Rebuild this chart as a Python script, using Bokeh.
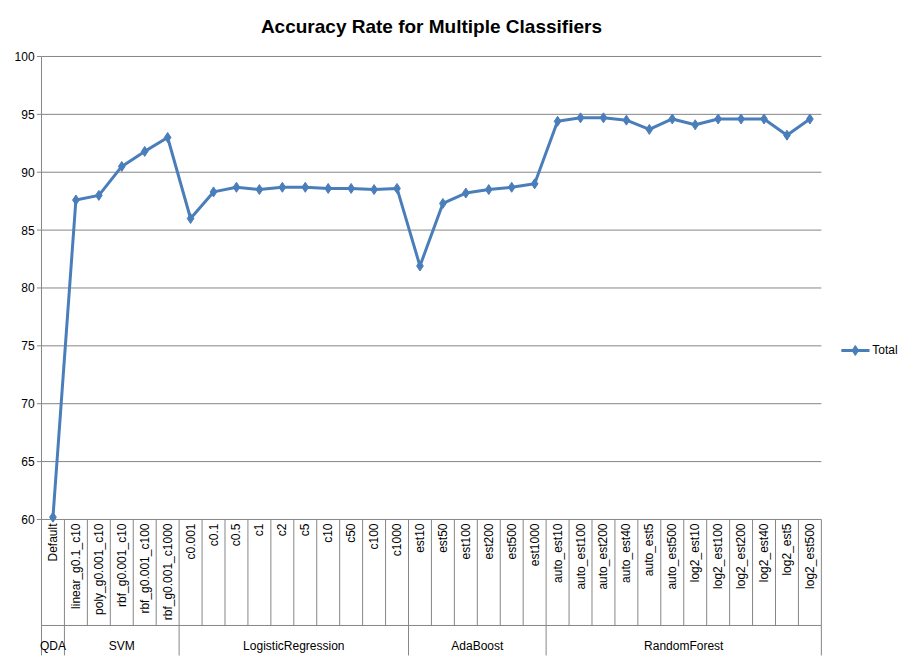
import math
from bokeh.plotting import figure
from bokeh.models import Range1d
from bokeh.core.properties import value
from bokeh.embed import file_html
from bokeh.resources import INLINE

groups = [("QDA", 1), ("SVM", 5), ("LogisticRegression", 10), ("AdaBoost", 6), ("RandomForest", 12)]
labels = ["Default",
          "linear_g0.1_c10", "poly_g0.001_c10", "rbf_g0.001_c10", "rbf_g0.001_c100", "rbf_g0.001_c1000",
          "c0.001", "c0.1", "c0.5", "c1", "c2", "c5", "c10", "c50", "c100", "c1000",
          "est10", "est50", "est100", "est200", "est500", "est1000",
          "auto_est10", "auto_est100", "auto_est200", "auto_est40", "auto_est5", "auto_est500",
          "log2_est10", "log2_est100", "log2_est200", "log2_est40", "log2_est5", "log2_est500"]
total = [60.2,
         87.6, 88.0, 90.5, 91.8, 93.0,
         86.0, 88.3, 88.7, 88.5, 88.7, 88.7, 88.6, 88.6, 88.5, 88.6,
         81.9, 87.3, 88.2, 88.5, 88.7, 89.0,
         94.4, 94.7, 94.7, 94.5, 93.7, 94.6,
         94.1, 94.6, 94.6, 94.6, 93.2, 94.6]
yticks = [60, 65, 70, 75, 80, 85, 90, 95, 100]

n = len(labels)
FONT = value("Liberation Sans")
BLUE = "#4a7ebb"
GRID = "#868686"

p = figure(width=903, height=658, output_backend="svg", toolbar_location=None,
           x_range=Range1d(-1.351, 37.45), y_range=Range1d(48.16, 103.8),
           min_border_left=10, min_border_right=3, min_border_top=12, min_border_bottom=2)
p.axis.visible = False
p.grid.visible = False
p.outline_line_color = None
p.border_fill_color = "white"

# horizontal gridlines and y labels
p.segment(x0=[0] * len(yticks), x1=[n] * len(yticks), y0=yticks, y1=yticks, line_color=GRID, line_width=1)
p.segment(x0=[-0.2] * len(yticks), x1=[0] * len(yticks), y0=yticks, y1=yticks, line_color=GRID)
p.text(x=[-0.3] * len(yticks), y=yticks, text=[str(t) for t in yticks], text_align="right",
       text_baseline="middle", text_font=FONT, text_font_size="12px", text_color="#000000")
p.segment(x0=[0], x1=[0], y0=[60], y1=[100], line_color=GRID)

# category boundaries below the axis
bounds = list(range(n + 1))
gb = [0]
for g, c in groups:
    gb.append(gb[-1] + c)
p.segment(x0=bounds, x1=bounds, y0=[60] * len(bounds), y1=[50.84] * len(bounds), line_color=GRID)
p.segment(x0=gb, x1=gb, y0=[50.84] * len(gb), y1=[48.25] * len(gb), line_color=GRID)
p.segment(x0=[0], x1=[n], y0=[50.84], y1=[50.84], line_color=GRID)

xs = [i + 0.5 for i in range(n)]
p.text(x=xs, y=[59.65] * n, text=labels, angle=math.pi / 2, text_align="right", text_baseline="middle",
       text_font=FONT, text_font_size="12px", text_color="#000000")
gx = [(gb[i] + gb[i + 1]) / 2 for i in range(len(groups))]
p.text(x=gx, y=[49.1] * len(groups), text=[g for g, c in groups], text_align="center", text_baseline="middle",
       text_font=FONT, text_font_size="12px", text_color="#000000")

# series
p.line(xs, total, line_color=BLUE, line_width=3)
p.scatter(xs, total, marker="diamond", size=10, fill_color=BLUE, line_color=BLUE)

# legend
p.line([34.87, 36.1], [74.6, 74.6], line_color=BLUE, line_width=3)
p.scatter([35.48], [74.6], marker="diamond", size=10, fill_color=BLUE, line_color=BLUE)
p.text(x=[36.22], y=[74.6], text=["Total"], text_baseline="middle", text_font=FONT,
       text_font_size="12px", text_color="#000000")

# title
p.text(x=[(n) / 2], y=[102.6], text=["Accuracy Rate for Multiple Classifiers"], text_align="center",
       text_baseline="middle", text_font=FONT, text_font_size="19px", text_font_style="bold",
       text_color="#000000")

open("out.html", "w").write(file_html(p, INLINE))
